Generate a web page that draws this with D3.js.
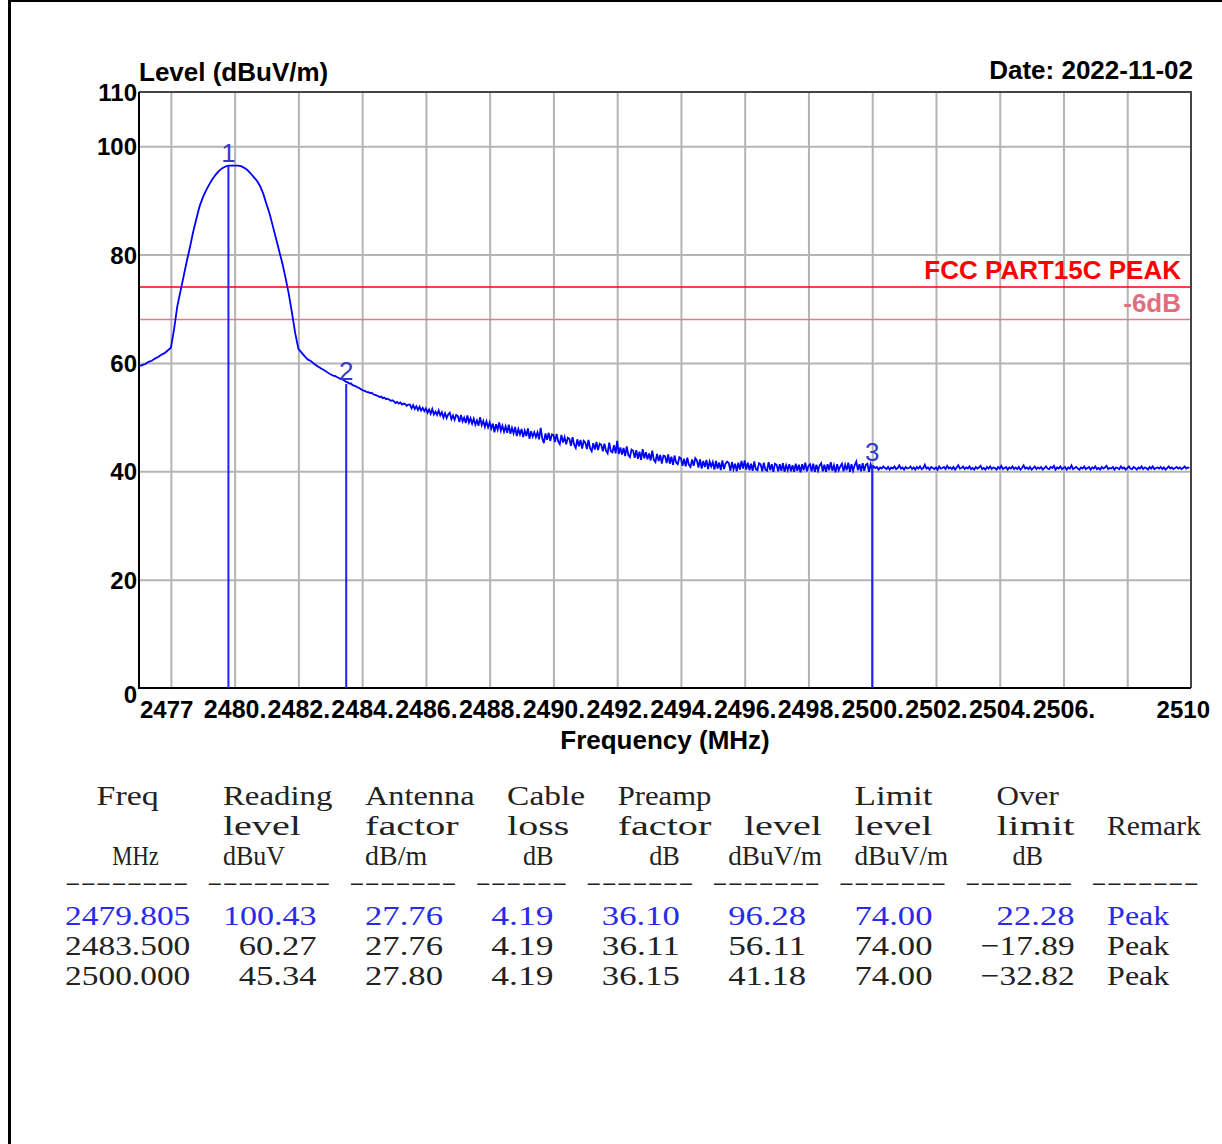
<!DOCTYPE html>
<html>
<head>
<meta charset="utf-8">
<script src="https://cdn.jsdelivr.net/npm/d3@7"></script>
<style>
  body { margin: 0; background: #fff; }
  svg { display: block; }
</style>
</head>
<body>
<div id="chart"></div>
<script>
// sweep around the carrier, one level every 0.1 MHz from 2477 MHz
const peakStart = 2477;
const peakStep = 0.1;
const peakLevels = [
  59.4, 59.6, 59.8, 60.2, 60.4, 60.8, 61.1, 61.5, 61.8, 62.3,
  62.8, 66.2, 70.4, 73.2, 76.0, 78.8, 81.4, 84.2, 86.6, 88.9,
  90.5, 91.8, 92.9, 93.9, 94.7, 95.4, 95.9, 96.2, 96.4, 96.4,
  96.4, 96.4, 96.3, 96.0, 95.6, 95.0, 94.3, 93.6, 92.6, 91.2,
  89.3, 87.5, 85.2, 82.9, 80.6, 78.3, 75.6, 72.7, 69.2, 65.5,
  62.6, 61.9, 61.2, 60.6, 60.3, 59.8, 59.4, 59.0, 58.7, 58.3
];

// noise floor, one level every 0.05 MHz from 2483 MHz
const floorStart = 2483;
const floorStep = 0.05;
const floorLevels = [
  57.9, 57.8, 57.6, 57.6, 57.4, 57.3, 57.1, 57.0, 56.9, 56.7,
  56.5, 56.4, 56.2, 56.2, 55.9, 55.8, 55.7, 55.5, 55.4, 55.2,
  55.0, 54.9, 54.8, 54.6, 54.6, 54.4, 54.5, 54.2, 54.1, 54.0,
  53.9, 53.7, 53.8, 53.5, 53.6, 53.3, 53.4, 53.2, 53.0, 53.1,
  52.9, 52.6, 52.8, 52.5, 52.7, 52.3, 52.5, 52.4, 52.1, 52.3,
  52.3, 51.6, 52.2, 51.5, 52.0, 51.3, 51.9, 51.2, 51.7, 51.1,
  51.6, 50.8, 51.4, 50.6, 51.5, 50.5, 51.0, 50.4, 51.2, 50.3,
  50.9, 49.9, 50.7, 49.8, 50.5, 50.8, 49.6, 50.3, 49.5, 50.4,
  50.2, 49.1, 50.4, 49.2, 49.9, 48.9, 50.3, 49.0, 49.8, 48.8,
  49.7, 48.6, 49.4, 48.4, 50.0, 48.5, 49.3, 48.2, 49.2, 48.1,
  49.0, 47.9, 48.8, 47.2, 48.7, 47.7, 49.0, 47.5, 48.4, 47.3,
  48.3, 47.1, 48.6, 46.9, 48.0, 47.0, 48.2, 46.5, 47.8, 46.8,
  47.8, 46.3, 47.5, 46.5, 47.9, 46.0, 47.4, 46.4, 47.2, 46.3,
  47.2, 45.9, 48.0, 46.1, 45.2, 47.0, 45.8, 47.1, 45.6, 46.8,
  46.7, 45.4, 46.9, 45.5, 45.0, 46.7, 45.3, 46.3, 45.0, 46.2,
  46.0, 44.7, 46.3, 44.9, 44.3, 45.9, 44.6, 45.8, 44.2, 45.6,
  45.3, 44.1, 45.8, 44.2, 43.7, 45.2, 44.0, 45.4, 43.9, 45.1,
  44.9, 43.7, 45.1, 43.8, 43.3, 45.3, 43.7, 43.5, 44.8, 43.3,
  45.6, 43.2, 44.4, 43.1, 44.3, 42.8, 44.6, 43.0, 42.6, 44.0,
  43.8, 42.5, 43.9, 42.3, 43.6, 42.1, 44.1, 42.4, 43.5, 42.2,
  43.3, 42.0, 43.8, 42.1, 41.7, 43.2, 41.9, 43.0, 41.4, 42.9,
  42.8, 41.5, 43.1, 41.4, 42.7, 41.2, 42.9, 41.6, 41.3, 42.6,
  42.4, 41.0, 42.3, 40.9, 42.5, 41.2, 40.8, 42.2, 41.0, 42.4,
  42.0, 40.7, 42.2, 40.5, 41.9, 40.8, 42.1, 40.4, 41.8, 40.9,
  41.7, 40.3, 41.9, 40.5, 41.6, 40.2, 42.0, 40.4, 41.4, 41.8,
  41.5, 40.1, 41.7, 40.4, 41.4, 40.0, 41.6, 40.3, 41.9, 40.5,
  42.0, 40.3, 41.6, 40.2, 41.4, 40.1, 41.8, 40.4, 40.2, 41.5,
  41.3, 40.0, 41.6, 40.3, 40.1, 41.7, 40.2, 41.3, 39.9, 41.4,
  41.2, 40.0, 41.3, 40.1, 41.5, 39.9, 41.1, 40.2, 41.3, 40.0,
  41.1, 39.9, 41.4, 40.1, 41.2, 39.8, 41.3, 40.2, 41.6, 40.0,
  41.0, 41.3, 40.0, 41.4, 39.9, 41.2, 40.1, 41.1, 41.5, 40.0,
  41.2, 39.9, 41.3, 40.2, 41.7, 40.1, 41.1, 39.8, 41.3, 40.2,
  40.9, 41.4, 40.0, 41.2, 40.2, 41.6, 39.9, 41.3, 40.1, 41.1,
  41.8, 40.2, 41.3, 40.0, 41.5, 40.1, 41.2, 41.4, 39.9, 41.3,
  40.4, 40.9, 40.6, 40.8, 40.3, 40.7, 40.5, 40.9, 40.6, 40.4,
  40.8, 40.3, 40.7, 40.5, 40.9, 40.4, 40.6, 41.1, 40.5, 40.7,
  40.3, 40.8, 40.5, 40.6, 40.9, 40.4, 40.7, 40.3, 40.8, 40.5,
  40.9, 40.4, 40.6, 41.2, 40.5, 40.7, 40.3, 40.8, 40.6, 40.4,
  40.7, 40.3, 40.9, 40.5, 40.6, 40.8, 40.4, 41.0, 40.5, 40.7,
  40.4, 40.8, 40.3, 40.7, 41.1, 40.5, 40.6, 40.9, 40.4, 40.7,
  40.5, 40.9, 40.4, 40.6, 40.3, 40.8, 40.5, 40.7, 41.0, 40.4,
  40.6, 40.3, 40.8, 40.5, 40.9, 40.4, 40.7, 40.6, 40.3, 40.8,
  40.5, 41.0, 40.4, 40.6, 40.8, 40.3, 40.7, 40.5, 40.9, 40.4,
  40.7, 40.4, 40.8, 40.3, 40.6, 41.1, 40.5, 40.7, 40.4, 40.8,
  40.3, 40.6, 40.9, 40.4, 40.7, 40.5, 40.8, 40.3, 40.6, 40.9,
  40.5, 40.4, 40.8, 40.6, 41.0, 40.3, 40.7, 40.5, 40.9, 40.4,
  40.6, 40.8, 40.3, 40.7, 40.5, 41.1, 40.4, 40.6, 40.8, 40.5,
  40.3, 40.7, 40.5, 40.9, 40.4, 40.6, 40.8, 40.3, 40.7, 40.5,
  40.9, 40.4, 40.6, 40.3, 40.8, 40.5, 40.7, 41.0, 40.4, 40.6,
  40.5, 40.8, 40.3, 40.7, 40.6, 40.4, 40.9, 40.5, 40.7, 40.3,
  40.6, 40.9, 40.5, 40.4, 40.8, 40.6, 40.3, 40.7, 40.5, 40.9,
  40.4, 40.7, 40.6, 40.3, 40.8, 40.5, 40.9, 40.4, 40.6, 40.7,
  40.5, 40.8, 40.4, 40.7, 40.3, 40.6, 40.9, 40.5, 40.7, 40.4,
  40.6, 40.8, 40.5, 40.7, 40.4, 40.6, 40.9, 40.5, 40.7, 40.6
];

// marker table
const markerFreqs = [2479.805, 2483.500, 2500.000];
const readingLevels = [100.43, 60.27, 45.34];
const antennaFactors = [27.76, 27.76, 27.80];
const cableLosses = [4.19, 4.19, 4.19];
const preampFactors = [36.10, 36.11, 36.15];
const markerLevels = [96.28, 56.11, 41.18];
const limitLevels = [74.00, 74.00, 74.00];
const overLimits = [22.28, -17.89, -32.82];
const remarks = ['Peak', 'Peak', 'Peak'];

// limit lines
const limitValues = [74, 68];
const limitLabels = ['FCC PART15C PEAK', '-6dB'];

// axes
const yTickValues = [0, 20, 40, 60, 80, 100, 110];
const yGridValues = [20, 40, 60, 80, 100];
const xGridValues = [2478, 2480, 2482, 2484, 2486, 2488, 2490, 2492, 2494, 2496, 2498, 2500, 2502, 2504, 2506, 2508];
const xLabelValues = [2480, 2482, 2484, 2486, 2488, 2490, 2492, 2494, 2496, 2498, 2500, 2502, 2504, 2506];
const xEdgeLabels = ['2477', '2510'];

const width = 1222;
const height = 1144;
const plot = { left: 139, right: 1191, top: 92, bottom: 688 };
const boldFont = '"Liberation Sans", Arial, sans-serif';

const x = d3.scaleLinear().domain([2477, 2510]).range([plot.left, plot.right]);
const y = d3.scaleLinear().domain([0, 110]).range([plot.bottom, plot.top]);

const svg = d3.select('#chart').append('svg')
  .attr('width', width)
  .attr('height', height)
  .style('background', '#fff');

// page frame
svg.append('line').attr('x1', 9.5).attr('x2', 9.5).attr('y1', 0).attr('y2', height)
  .attr('stroke', '#000').attr('stroke-width', 3);
svg.append('line').attr('x1', 8).attr('x2', width).attr('y1', 1).attr('y2', 1)
  .attr('stroke', '#000').attr('stroke-width', 2);

// grid
svg.append('g')
  .attr('transform', `translate(0,${plot.bottom})`)
  .call(d3.axisBottom(x).tickValues(xGridValues).tickSize(-(plot.bottom - plot.top)).tickFormat(''))
  .call(g => g.select('.domain').remove())
  .call(g => g.selectAll('.tick line').attr('stroke', '#b4b4b4').attr('stroke-width', 2));

svg.append('g')
  .attr('transform', `translate(${plot.left},0)`)
  .call(d3.axisLeft(y).tickValues(yGridValues).tickSize(-(plot.right - plot.left)).tickFormat(''))
  .call(g => g.select('.domain').remove())
  .call(g => g.selectAll('.tick line').attr('stroke', '#b4b4b4').attr('stroke-width', 2));

// limit lines
const limitColors = ['#ff0000', '#e8798c'];
const limitTextColors = ['#ff0000', '#e06e7e'];
limitValues.forEach((v, i) => {
  svg.append('line')
    .attr('x1', plot.left).attr('x2', plot.right)
    .attr('y1', y(v)).attr('y2', y(v))
    .attr('stroke', limitColors[i]).attr('stroke-width', 1.6);
  svg.append('text')
    .attr('x', 1181).attr('y', y(v) - 8)
    .attr('text-anchor', 'end')
    .style('font', `bold 26px ${boldFont}`)
    .attr('fill', limitTextColors[i])
    .text(limitLabels[i]);
});

// plot frame
svg.append('path')
  .attr('d', `M${plot.left},${plot.top}H${plot.right}V${plot.bottom}`)
  .attr('fill', 'none').attr('stroke', '#444').attr('stroke-width', 2);
svg.append('path')
  .attr('d', `M${plot.left},${plot.top}V${plot.bottom}H${plot.right}`)
  .attr('fill', 'none').attr('stroke', '#000').attr('stroke-width', 2);

// trace: carrier part then noise floor
const tracePoints = peakLevels.map((v, i) => [peakStart + i * peakStep, v])
  .concat(floorLevels.map((v, i) => [floorStart + i * floorStep, v]));

const line = d3.line()
  .x(d => x(d[0]))
  .y(d => y(d[1]));

svg.append('path')
  .datum(tracePoints)
  .attr('fill', 'none')
  .attr('stroke', '#0000ff')
  .attr('stroke-width', 1.8)
  .attr('d', line);

// markers
markerFreqs.forEach((f, i) => {
  svg.append('line')
    .attr('x1', x(f)).attr('x2', x(f))
    .attr('y1', y(0)).attr('y2', y(markerLevels[i]))
    .attr('stroke', '#2020ff').attr('stroke-width', 2);
  svg.append('text')
    .attr('x', x(f)).attr('y', y(markerLevels[i]) - 4)
    .attr('text-anchor', 'middle')
    .style('font', `26px ${boldFont}`)
    .attr('fill', '#3838c8')
    .text(i + 1);
});

// axis labels
const yAxis = svg.append('g')
  .attr('transform', `translate(${plot.left - 2},0)`)
  .call(d3.axisLeft(y).tickValues(yTickValues).tickSize(0).tickPadding(0))
  .call(g => g.select('.domain').remove());
yAxis.selectAll('text')
  .style('font', `bold 24px ${boldFont}`)
  .attr('fill', '#000')
  .attr('dy', d => (d === 0 ? '0.6em' : '0.36em'));

const xAxis = svg.append('g')
  .attr('transform', `translate(0,${plot.bottom})`)
  .call(d3.axisBottom(x).tickValues(xLabelValues).tickSize(0).tickFormat(d => `${d}.`))
  .call(g => g.select('.domain').remove());
xAxis.selectAll('text')
  .style('font', `bold 25px ${boldFont}`)
  .attr('fill', '#000')
  .attr('y', 30)
  .attr('dy', 0);

svg.append('text')
  .attr('x', 140).attr('y', 718)
  .style('font', `bold 24px ${boldFont}`)
  .text(xEdgeLabels[0]);
svg.append('text')
  .attr('x', 1210).attr('y', 718)
  .attr('text-anchor', 'end')
  .style('font', `bold 24px ${boldFont}`)
  .text(xEdgeLabels[1]);

svg.append('text')
  .attr('x', (plot.left + plot.right) / 2).attr('y', 749)
  .attr('text-anchor', 'middle')
  .style('font', `bold 26px ${boldFont}`)
  .text('Frequency (MHz)');

svg.append('text')
  .attr('x', 139).attr('y', 81)
  .style('font', `bold 26px ${boldFont}`)
  .text('Level (dBuV/m)');

svg.append('text')
  .attr('x', 1193).attr('y', 79)
  .attr('text-anchor', 'end')
  .style('font', `bold 26px ${boldFont}`)
  .text('Date: 2022-11-02');

// table, laid out on a fixed character grid
const tableX = 65;
const pitch = 15.79;
const tableFont = '"Liberation Serif", "Times New Roman", serif';

const headerRows = [
  [[2, 'Freq'], [10, 'Reading'], [19, 'Antenna'], [28, 'Cable'], [35, 'Preamp'], [50, 'Limit'], [59, 'Over']],
  [[10, 'level'], [19, 'factor'], [28, 'loss'], [35, 'factor'], [43, 'level'], [50, 'level'], [59, 'limit'], [66, 'Remark']],
  [[3, 'MHz'], [10, 'dBuV'], [19, 'dB/m'], [29, 'dB'], [37, 'dB'], [42, 'dBuV/m'], [50, 'dBuV/m'], [60, 'dB']]
];
const dashGroups = [[0, 8], [9, 8], [18, 7], [26, 6], [33, 7], [41, 7], [49, 7], [57, 7], [65, 7]];

const rowLine = i => markerFreqs[i].toFixed(3)
  + readingLevels[i].toFixed(2).padStart(8)
  + antennaFactors[i].toFixed(2).padStart(8)
  + cableLosses[i].toFixed(2).padStart(7)
  + preampFactors[i].toFixed(2).padStart(8)
  + markerLevels[i].toFixed(2).padStart(8)
  + limitLevels[i].toFixed(2).padStart(8)
  + overLimits[i].toFixed(2).padStart(9)
  + '  ' + remarks[i];

const tokens = str => Array.from(str.matchAll(/\S+/g), m => [m.index, m[0]]);

const tableRows = headerRows.concat(markerFreqs.map((f, i) => tokens(rowLine(i))));
const rowBaselines = [805, 835, 865, 925, 955, 985];
const rowColors = ['#222', '#222', '#222', '#2a2ae8', '#222', '#222'];

const table = svg.append('g');
tableRows.forEach((row, r) => {
  table.selectAll(null)
    .data(row)
    .enter().append('text')
    .attr('x', d => tableX + d[0] * pitch)
    .attr('y', rowBaselines[r])
    .attr('textLength', d => d[1].length * pitch - 1)
    .attr('lengthAdjust', 'spacingAndGlyphs')
    .style('font', `28px ${tableFont}`)
    .attr('fill', rowColors[r])
    .text(d => d[1].replace(/^-(?=\d)/, '\u2212'));
});

// dashed rule under the header
table.selectAll(null)
  .data(dashGroups)
  .enter().append('text')
  .attr('x', d => tableX + d[0] * pitch)
  .attr('y', 889)
  .attr('textLength', d => d[1] * pitch - 3)
  .attr('lengthAdjust', 'spacingAndGlyphs')
  .style('font', `22px ${tableFont}`)
  .attr('fill', '#222')
  .text(d => '-'.repeat(d[1]));
</script>
</body>
</html>
